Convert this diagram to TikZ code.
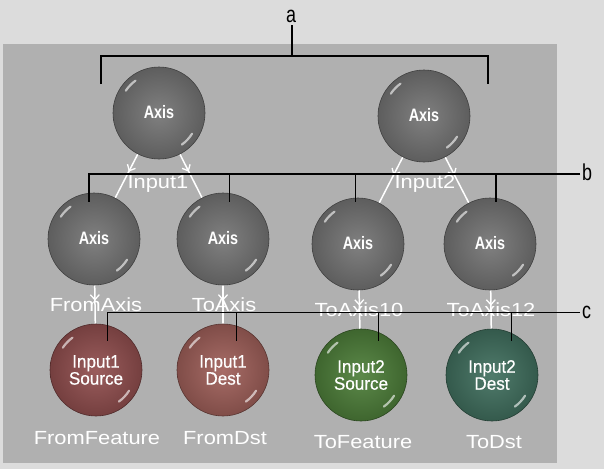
\documentclass[tikz,border=0pt]{standalone}
\usepackage{fontspec}
\setmainfont{Liberation Sans}
\newfontfamily\axisfont[FakeStretch=0.8]{Liberation Sans}
\newfontfamily\lblfont[FakeStretch=1.15]{Liberation Sans}
\newfontfamily\spherefont[FakeStretch=0.95,FakeBold=0.6]{Liberation Sans}
\newfontfamily\calloutfont[FakeStretch=0.78]{Liberation Sans}
\usetikzlibrary{arrows.meta,decorations.markings}
\definecolor{outerbg}{HTML}{DCDCDC}
\definecolor{panelbg}{HTML}{B0B0B0}
\definecolor{axisgray}{HTML}{757575}
\definecolor{redA}{HTML}{924F4F}
\definecolor{redB}{HTML}{A0605A}
\definecolor{greenA}{HTML}{4E7F3A}
\definecolor{tealA}{HTML}{41705F}
\tikzset{
  sphere/.style={circle, minimum size=92pt, inner sep=0pt, shade,
    draw=#1!55!black, line width=0.6pt,
    inner color=#1!92!white, outer color=#1!80!black, text=white,
    path picture={
      \draw[white, opacity=0.6, line width=2.2pt, line cap=round]
        (path picture bounding box.center) ++(126:40pt) arc[start angle=126, end angle=146, radius=40pt];
      \draw[white, opacity=0.6, line width=2.2pt, line cap=round]
        (path picture bounding box.center) ++(-54:39pt) arc[start angle=-54, end angle=-32, radius=39pt];
    }},
  axisball/.style={sphere=axisgray, font={\axisfont\bfseries\fontsize{18}{20}\selectfont}},
  inball/.style={sphere=#1, align=center, font={\spherefont\fontsize{18}{18}\selectfont}},
  lbl/.style={text=white, inner sep=0pt, text height=13.6pt, text depth=0pt,
    font={\lblfont\fontsize{19}{20}\selectfont}},
  edgeline/.style={draw=white, line width=1.5pt, postaction={decorate},
    decoration={markings, mark=at position 0.4 with {\arrow{Straight Barb[length=5pt,width=9pt,line width=1.3pt]}}}},
  callout/.style={draw=black, line width=1.6pt},
  calloutlbl/.style={text=black, inner sep=0pt, font={\calloutfont\fontsize{23}{23}\selectfont}},
  anchorball/.style={circle, minimum size=92pt, inner sep=0pt},
}
\begin{document}
\begin{tikzpicture}[x=1pt,y=-1pt]
\fill[outerbg] (0,0) rectangle (604,469);
\fill[panelbg] (3,44) rectangle (557,463);
\useasboundingbox (0,0) rectangle (604,469);

\coordinate (A1) at (159,113);
\coordinate (A2) at (424,116);
\coordinate (B1) at (94,239);
\coordinate (B2) at (223,239);
\coordinate (B3) at (358,244);
\coordinate (B4) at (490,244);
\coordinate (C1) at (96,370);
\coordinate (C2) at (223,370);
\coordinate (C3) at (361,375);
\coordinate (C4) at (492,375);

% invisible anchors for the edges
\node[anchorball] (a1) at (A1) {};
\node[anchorball] (a2) at (A2) {};
\node[anchorball] (b1) at (B1) {};
\node[anchorball] (b2) at (B2) {};
\node[anchorball] (b3) at (B3) {};
\node[anchorball] (b4) at (B4) {};
\node[anchorball] (c1) at (C1) {};
\node[anchorball] (c2) at (C2) {};
\node[anchorball] (c3) at (C3) {};
\node[anchorball] (c4) at (C4) {};

% edges
\draw[edgeline] (a1) -- (b1);
\draw[edgeline] (a1) -- (b2);
\draw[edgeline] (a2) -- (b3);
\draw[edgeline] (a2) -- (b4);
\draw[edgeline] (b1) -- (c1);
\draw[edgeline] (b2) -- (c2);
\draw[edgeline] (b3) -- (c3);
\draw[edgeline] (b4) -- (c4);

% spheres
\node[axisball] (s a1) at (A1) {\raisebox{2pt}{Axis}};
\node[axisball] (s a2) at (A2) {\raisebox{2pt}{Axis}};
\node[axisball] (s b1) at (B1) {\raisebox{2pt}{Axis}};
\node[axisball] (s b2) at (B2) {\raisebox{2pt}{Axis}};
\node[axisball] (s b3) at (B3) {\raisebox{2pt}{Axis}};
\node[axisball] (s b4) at (B4) {\raisebox{2pt}{Axis}};
\node[inball=redA] (s c1) at (C1) {Input1\\[-1pt]Source};
\node[inball=redB] (s c2) at (C2) {Input1\\[-1pt]Dest};
\node[inball=greenA] (s c3) at (C3) {Input2\\[-1pt]Source};
\node[inball=tealA] (s c4) at (C4) {Input2\\[-1pt]Dest};

% labels
\node[lbl] (l in1) at (158,181.5) {Input1};
\node[lbl] (l in2) at (425,181.5) {Input2};
\node[lbl] (l fa) at (96,305) {FromAxis};
\node[lbl] (l ta) at (224,305) {ToAxis};
\node[lbl] (l ta10) at (359,309.5) {ToAxis10};
\node[lbl] (l ta12) at (491,309.5) {ToAxis12};
\node[lbl] (l ff) at (97,437.5) {FromFeature};
\node[lbl] (l fd) at (225,437.5) {FromDst};
\node[lbl] (l tf) at (363,441.5) {ToFeature};
\node[lbl] (l td) at (494,441.5) {ToDst};

% callouts
\node[calloutlbl, anchor=base] (ca) at (291,22) {a};
\coordinate (ca top) at (292,25);
\coordinate (ca mid) at (292,56);
\coordinate (ca l) at (101,56);
\coordinate (ca r) at (488,56);
\coordinate (ca lt) at (101,84);
\coordinate (ca rt) at (488,84);
\draw[callout] (ca top) -- (ca mid);
\draw[callout] (ca lt) -- (ca l) -- (ca r) -- (ca rt);

\node[calloutlbl, anchor=base west] (cb) at (582,180) {b};
\coordinate (cb end) at (580,174);
\coordinate (cb 1) at (89,174);
\coordinate (cb 2) at (229.5,174);
\coordinate (cb 3) at (355.5,174);
\coordinate (cb 4) at (496,174);
\draw[callout] (cb end) -- (cb 1) -- ++(0,28);
\draw[callout] (cb 2) -- ++(0,28);
\draw[callout] (cb 3) -- ++(0,28);
\draw[callout] (cb 4) -- ++(0,28);

\node[calloutlbl, anchor=base west] (cc) at (582,318) {c};
\coordinate (cc end) at (580,312.5);
\coordinate (cc 1) at (107.5,312.5);
\coordinate (cc 2) at (236.5,312.5);
\coordinate (cc 3) at (378.5,312.5);
\coordinate (cc 4) at (511.5,312.5);
\draw[callout] (cc end) -- (cc 1) -- ++(0,28);
\draw[callout] (cc 2) -- ++(0,28);
\draw[callout] (cc 3) -- ++(0,28);
\draw[callout] (cc 4) -- ++(0,28);
\end{tikzpicture}
\end{document}
